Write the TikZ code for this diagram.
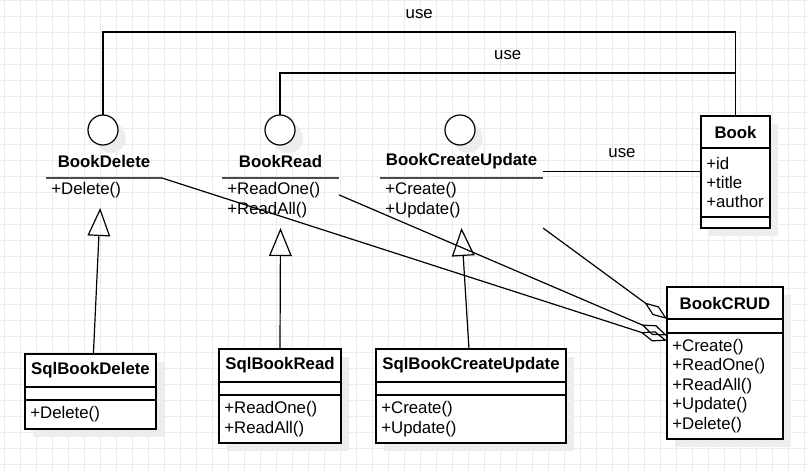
\documentclass[tikz,border=0pt]{standalone}
\usepackage{fontspec}
\setmainfont{Liberation Sans}
\usetikzlibrary{arrows.meta}
\usetikzlibrary{shadows}
\newcommand{\umlfont}{\fontsize{12.6}{14.6}\selectfont}
\tikzset{
  gridline/.style={draw=black!8, line width=0.75pt},
  boxshadow/.style={drop shadow={shadow xshift=6pt, shadow yshift=-6pt, fill=black!7, opacity=1}},
  part/.style={draw, fill=white, line width=0.9pt, outer sep=0pt, inner sep=0pt, anchor=north west, font=\umlfont, boxshadow},
  title/.style={part, font=\umlfont\bfseries},
  ops/.style={part, align=left, inner xsep=4pt},
  iface/.style={circle, draw, fill=white, line width=0.9pt, minimum size=22.5pt, inner sep=0pt, outer sep=0pt, boxshadow},
  ifacename/.style={anchor=north west, inner sep=0pt, outer sep=0pt, font=\umlfont\bfseries},
  ifaceops/.style={anchor=north west, inner xsep=4pt, inner ysep=0pt, outer sep=0pt, align=left, font=\umlfont},
  underline/.style={draw=black!70, line width=1.4pt},
  usetag/.style={anchor=south, inner xsep=0pt, inner ysep=9.4pt, font=\umlfont},
  link/.style={line width=0.9pt},
  inherit/.style={link, -{Triangle[open, length=21pt, width=17pt]}},
  aggr/.style={link, -{Diamond[open, length=21pt, width=8pt]}},
}
\begin{document}
\begin{tikzpicture}[x=0.75pt,y=0.75pt,yscale=-1,xscale=1]
\useasboundingbox (0,0) rectangle (808,471);

%Grid
\foreach \gx in {4,20,...,804} \draw[gridline] (\gx,0) -- (\gx,471);
\foreach \gy in {0,16,...,464} \draw[gridline] (0,\gy) -- (808,\gy);

%Interface: BookDelete
\node[iface] (delcirc) at (103,130) {};
\node[ifacename, minimum width=87pt, minimum height=24.75pt] (delhdr) at (46,145) {BookDelete};
\node[ifaceops, text width=79pt, minimum height=27pt] (delops) at (46,172) {+Delete()};
\draw[underline] (delhdr.south west) -- (delhdr.south east);
%Interface: BookRead
\node[iface] (readcirc) at (280,130) {};
\node[ifacename, minimum width=87.75pt, minimum height=24.75pt] (readhdr) at (222,145) {BookRead};
\node[ifaceops, text width=79.75pt, minimum height=42pt] (readops) at (222,172) {+ReadOne()\\+ReadAll()};
\draw[underline] (readhdr.south west) -- (readhdr.south east);
%Interface: BookCreateUpdate
\node[iface] (cucirc) at (460,130) {};
\node[ifacename, minimum width=122.25pt, minimum height=24.75pt] (cuhdr) at (380,145) {BookCreateUpdate};
\node[ifaceops, text width=114.25pt, minimum height=42pt] (cuops) at (380,172) {+Create()\\+Update()};
\draw[underline] (cuhdr.south west) -- (cuhdr.south east);

%Class: Book
\node[title, minimum width=51.75pt, minimum height=24pt] (bookhdr) at (701,116) {Book};
\node[ops, text width=43.75pt, minimum height=51.75pt] (bookattr) at (bookhdr.south west) {+id\\+title\\+author};
\node[part, minimum width=51.75pt, minimum height=8.25pt] (bookops) at (bookattr.south west) {};
%Class: BookCRUD
\node[title, minimum width=87pt, minimum height=24pt] (crudhdr) at (667,287) {BookCRUD};
\node[part, minimum width=87pt, minimum height=10.5pt] (crudattr) at (crudhdr.south west) {};
\node[ops, text width=79pt, minimum height=79.5pt] (crudops) at (crudattr.south west) {+Create()\\+ReadOne()\\+ReadAll()\\+Update()\\+Delete()};
%Class: SqlBookDelete
\node[title, minimum width=98.25pt, minimum height=24.75pt] (sqldelhdr) at (25,354) {SqlBookDelete};
\node[part, minimum width=98.25pt, minimum height=9.75pt] (sqldelattr) at (sqldelhdr.south west) {};
\node[ops, text width=90.25pt, minimum height=21.75pt] (sqldelops) at (sqldelattr.south west) {+Delete()};
%Class: SqlBookRead
\node[title, minimum width=91.5pt, minimum height=24.75pt] (sqlreadhdr) at (219,349) {SqlBookRead};
\node[part, minimum width=91.5pt, minimum height=9.75pt] (sqlreadattr) at (sqlreadhdr.south west) {};
\node[ops, text width=83.5pt, minimum height=36pt] (sqlreadops) at (sqlreadattr.south west) {+ReadOne()\\+ReadAll()};
%Class: SqlBookCreateUpdate
\node[title, minimum width=142.5pt, minimum height=24.75pt] (sqlcuhdr) at (376,349) {SqlBookCreateUpdate};
\node[part, minimum width=142.5pt, minimum height=9.75pt] (sqlcuattr) at (sqlcuhdr.south west) {};
\node[ops, text width=134.5pt, minimum height=36pt] (sqlcuops) at (sqlcuattr.south west) {+Create()\\+Update()};

%Uses
\draw[link] (delcirc.north) -- ++(0,-83) -| node[usetag, pos=0.25] {use} (bookhdr.north);
\draw[link] (readcirc.north) -- ++(0,-42) -| node[usetag, pos=0.25] {use} (bookhdr.north);
\draw[link] (bookattr.162) -- node[usetag] {use} (bookattr.162 -| cuhdr.east);

%Realizations
\draw[inherit] (sqldelhdr.80) -- (delops.258);
\draw[inherit] (sqlreadhdr.north) -- (readops.south);
\draw[inherit] (sqlcuhdr.97) -- (cuops.south);

%Aggregations
\draw[aggr] (cuops.south east) -- (crudhdr.south west);
\draw[aggr] (readops.5) -- (crudops.139);
\draw[aggr] (delhdr.south east) -- (crudops.142);

\end{tikzpicture}
\end{document}
